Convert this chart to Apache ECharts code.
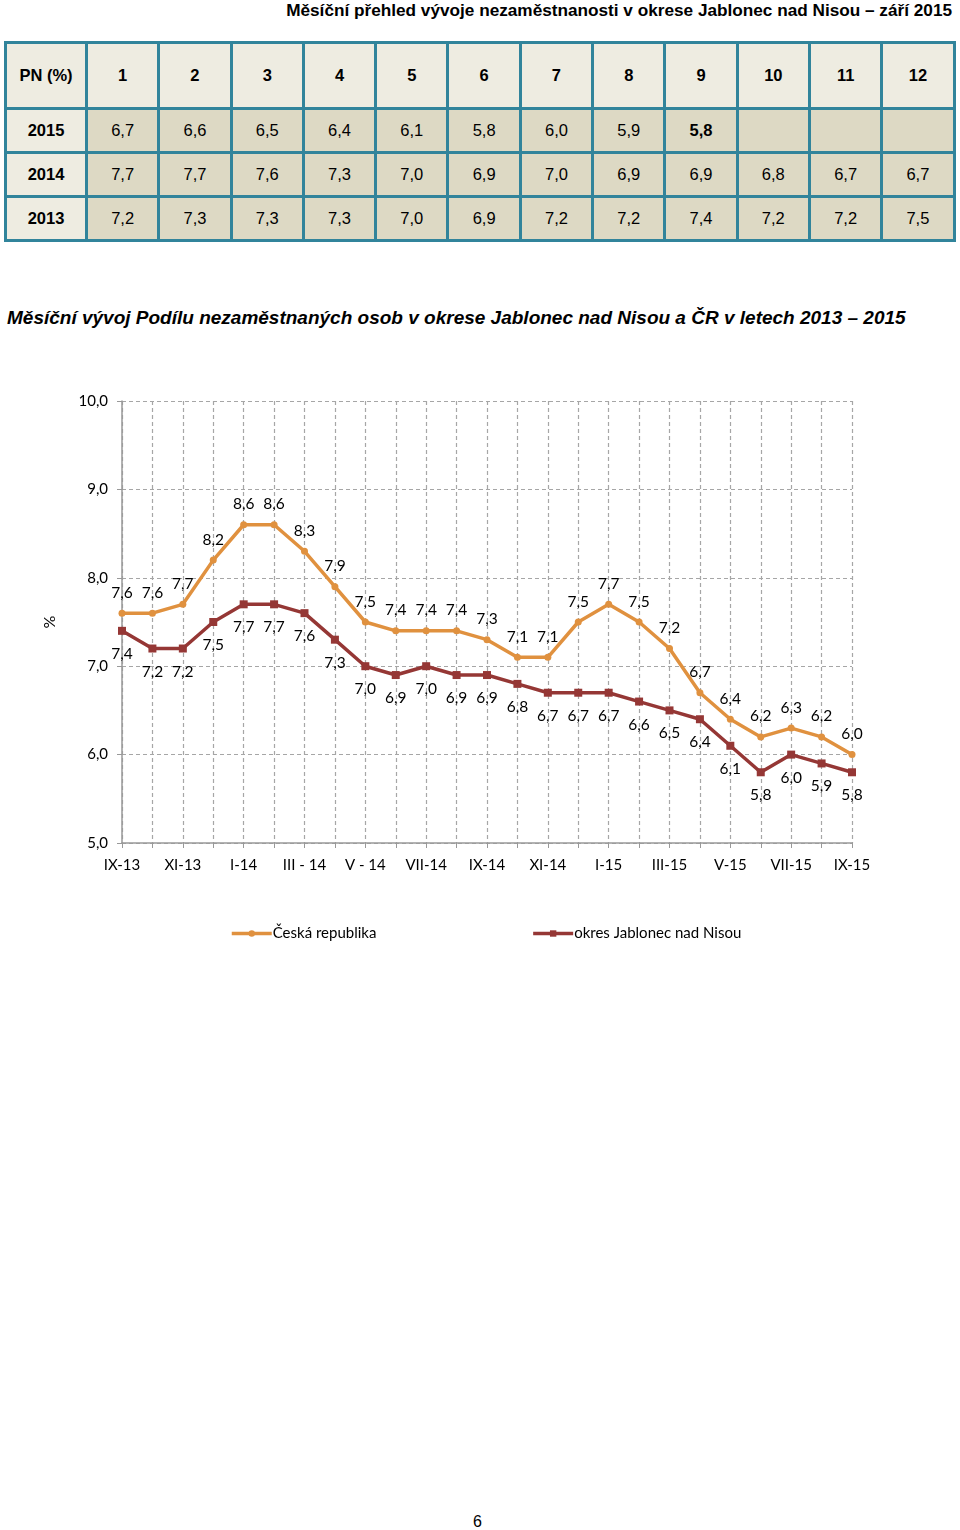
<!DOCTYPE html>
<html>
<head>
<meta charset="utf-8">
<script src="https://cdn.jsdelivr.net/npm/echarts@6/dist/echarts.min.js"></script>
<style>
  body { margin: 0; width: 960px; height: 1530px; background: #fff; position: relative; font-family: "Liberation Sans", Arial, sans-serif; }
  .head { position: absolute; right: 8px; top: 0px; font-size: 17.2px; font-weight: bold; color: #000; }
  #tab { position: absolute; left: 4px; top: 41px; border-collapse: collapse; table-layout: fixed; }
  #tab td { border: 3px solid #31849b; text-align: center; font-size: 16.5px; color: #000; padding: 0; }
  #tab tr.hd td { height: 63px; background: #eeece1; font-weight: bold; }
  #tab tr.rw td { height: 41px; background: #ddd9c4; }
  #tab tr.rw td.yr { background: #eeece1; font-weight: bold; }
  .ctitle { position: absolute; left: 7px; top: 307px; font-size: 19px; font-weight: bold; font-style: italic; color: #000; }
  #main { position: absolute; left: 0; top: 340px; width: 960px; height: 620px; }
  .pg { position: absolute; left: 473px; top: 1513px; font-size: 16px; }
</style>
</head>
<body>
<div class="head">Měsíční přehled vývoje nezaměstnanosti v okrese Jablonec nad Nisou – září 2015</div>
<table id="tab"></table>
<div class="ctitle">Měsíční vývoj Podílu nezaměstnaných osob v okrese Jablonec nad Nisou a ČR v letech 2013 – 2015</div>
<div id="main"></div>
<div class="pg">6</div>
<script>
// tabulka PN (%)
const tabMonths = ["1", "2", "3", "4", "5", "6", "7", "8", "9", "10", "11", "12"];
const tab2015 = [6.7, 6.6, 6.5, 6.4, 6.1, 5.8, 6.0, 5.9, 5.8];
const tab2014 = [7.7, 7.7, 7.6, 7.3, 7.0, 6.9, 7.0, 6.9, 6.9, 6.8, 6.7, 6.7];
const tab2013 = [7.2, 7.3, 7.3, 7.3, 7.0, 6.9, 7.2, 7.2, 7.4, 7.2, 7.2, 7.5];

// graf
const categories = ["IX-13", "X-13", "XI-13", "XII-13", "I-14", "II-14", "III - 14", "IV - 14", "V - 14", "VI - 14",
  "VII-14", "VIII-14", "IX-14", "X-14", "XI-14", "XII-14", "I-15", "II-15", "III-15", "IV-15", "V-15", "VI-15",
  "VII-15", "VIII-15", "IX-15"];
const cr = [7.6, 7.6, 7.7, 8.2, 8.6, 8.6, 8.3, 7.9, 7.5, 7.4, 7.4, 7.4, 7.3, 7.1, 7.1, 7.5, 7.7, 7.5, 7.2, 6.7,
  6.4, 6.2, 6.3, 6.2, 6.0];
const jablonec = [7.4, 7.2, 7.2, 7.5, 7.7, 7.7, 7.6, 7.3, 7.0, 6.9, 7.0, 6.9, 6.9, 6.8, 6.7, 6.7, 6.7, 6.6, 6.5,
  6.4, 6.1, 5.8, 6.0, 5.9, 5.8];

const fmt = v => v.toFixed(1).replace(".", ",");

// sestaveni tabulky
const tab = document.getElementById("tab");
let html = '<colgroup><col style="width:81px">' + tabMonths.map(() => '<col style="width:72.3px">').join("") + '</colgroup>';
html += '<tr class="hd"><td>PN (%)</td>' + tabMonths.map(m => "<td>" + m + "</td>").join("") + "</tr>";
[["2015", tab2015], ["2014", tab2014], ["2013", tab2013]].forEach(([y, arr]) => {
  html += '<tr class="rw"><td class="yr">' + y + "</td>";
  tabMonths.forEach((m, i) => {
    const v = arr[i];
    const bold = (y === "2015" && i === arr.length - 1) ? ' style="font-weight:bold"' : "";
    html += "<td" + bold + ">" + (v === undefined ? "" : fmt(v)) + "</td>";
  });
  html += "</tr>";
});
tab.innerHTML = html;

const font = "Lato, 'Open Sans', sans-serif";
const myChart = echarts.init(document.getElementById("main"));
const option = {
  animation: false,
  textStyle: { fontFamily: font },
  grid: { left: 122, right: 108, top: 61, height: 442 },
  legend: {
    bottom: 14,
    left: 225,
    itemGap: 155,
    itemWidth: 40,
    itemHeight: 8,
    lineStyle: { width: 3.5 },
    textStyle: { fontSize: 15, color: "#000", fontFamily: font, padding: [0, 0, 0, -4] },
    data: ["Česká republika", "okres Jablonec nad Nisou"]
  },
  xAxis: {
    type: "category",
    boundaryGap: false,
    data: categories,
    axisLine: { lineStyle: { color: "#999", width: 1.5 } },
    axisTick: { show: true, interval: 0, length: 5, lineStyle: { color: "#999" } },
    axisLabel: { interval: 1, color: "#000", fontSize: 15, margin: 15, fontFamily: font },
    splitLine: { show: true, interval: 0, lineStyle: { color: "#a6a6a6", type: [4, 3], width: 1.2 } }
  },
  yAxis: {
    type: "value",
    min: 5,
    max: 10,
    interval: 1,
    name: "%",
    nameLocation: "middle",
    nameGap: 64,
    nameRotate: 90,
    nameTextStyle: { fontSize: 16, color: "#000", fontFamily: font },
    axisLine: { show: true, lineStyle: { color: "#999", width: 1.5 } },
    axisTick: { show: true, length: 5, lineStyle: { color: "#999" } },
    axisLabel: { color: "#000", fontSize: 15, margin: 14, formatter: v => fmt(v), fontFamily: font },
    splitLine: { show: true, lineStyle: { color: "#a6a6a6", type: [4, 3], width: 1.2 } }
  },
  series: [
    {
      name: "Česká republika",
      type: "line",
      data: cr,
      symbol: "circle",
      symbolSize: 7,
      itemStyle: { color: "#e0913f" },
      lineStyle: { color: "#e0913f", width: 3.5 },
      label: { show: true, position: "top", distance: 9, color: "#000", fontSize: 15.5, fontFamily: font, formatter: p => fmt(p.value) }
    },
    {
      name: "okres Jablonec nad Nisou",
      type: "line",
      data: jablonec,
      symbol: "rect",
      symbolSize: 8,
      itemStyle: { color: "#953735" },
      lineStyle: { color: "#953735", width: 3.5 },
      label: { show: true, position: "bottom", distance: 11, color: "#000", fontSize: 15.5, fontFamily: font, formatter: p => fmt(p.value) }
    }
  ]
};
myChart.setOption(option);
</script>
</body>
</html>
